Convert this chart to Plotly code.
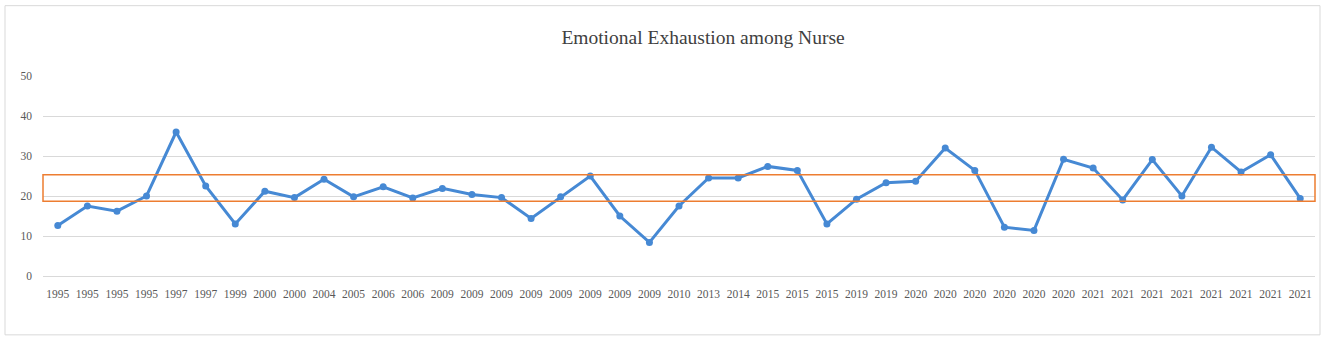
import plotly.graph_objects as go

years = ["1995", "1995", "1995", "1995", "1997", "1997", "1999", "2000", "2000", "2004",
         "2005", "2006", "2006", "2009", "2009", "2009", "2009", "2009", "2009", "2009",
         "2009", "2010", "2013", "2014", "2015", "2015", "2015", "2019", "2019", "2020",
         "2020", "2020", "2020", "2020", "2020", "2021", "2021", "2021", "2021", "2021",
         "2021", "2021", "2021"]
values = [12.6, 17.5, 16.2, 20.0, 36.0, 22.5, 13.0, 21.2, 19.6, 24.2,
          19.8, 22.3, 19.5, 21.9, 20.4, 19.6, 14.4, 19.8, 25.0, 15.0,
          8.4, 17.5, 24.5, 24.5, 27.4, 26.4, 13.0, 19.2, 23.3, 23.7,
          32.0, 26.4, 12.2, 11.4, 29.2, 27.0, 19.0, 29.1, 20.0, 32.2,
          26.0, 30.3, 19.4]
band = [18.7, 25.3]
y_ticks = [0, 10, 20, 30, 40, 50]

idx = list(range(len(years)))

fig = go.Figure()
fig.add_trace(go.Scatter(
    x=idx, y=values, mode="lines+markers",
    line=dict(color="#4689d4", width=3),
    marker=dict(color="#4689d4", size=7),
    hoverinfo="y",
))

fig.add_shape(type="rect", xref="paper", yref="y", x0=0, x1=1,
              y0=band[0], y1=band[1], line=dict(color="#ED7D31", width=1.5),
              fillcolor="rgba(0,0,0,0)", layer="above")

# outer chart border
L, R, T, B = 43, 10, 75.5, 64
W, H = 1325, 340
pw, ph = W - L - R, H - T - B
fig.add_shape(type="rect", xref="paper", yref="paper",
              x0=(5 - L) / pw, x1=(1320 - L) / pw,
              y0=(H - B - 335) / ph, y1=(H - B - 5) / ph,
              line=dict(color="#d9d9d9", width=1), fillcolor="rgba(0,0,0,0)")

serif = "Palatino Linotype, Book Antiqua, Liberation Serif, serif"
fig.update_layout(
    width=W, height=H,
    margin=dict(l=L, r=R, t=T, b=B),
    paper_bgcolor="white", plot_bgcolor="white",
    showlegend=False,
    title=dict(text="Emotional Exhaustion among Nurse",
               x=703 / W, xanchor="center", y=1 - 37 / H, yanchor="middle",
               font=dict(family=serif, size=19.5, color="#404040")),
    font=dict(family=serif, size=11.5, color="#595959"),
)
fig.update_xaxes(
    tickmode="array", tickvals=idx, ticktext=years,
    range=[-0.5, len(years) - 0.5], showgrid=False, zeroline=False,
    showline=False, ticks="", tickangle=0, ticklabelstandoff=9,
    tickfont=dict(family=serif, size=11.5, color="#595959"),
)
fig.update_yaxes(
    range=[0, 50], tickvals=y_ticks, showgrid=True, gridcolor="#d9d9d9",
    gridwidth=1, zeroline=True, zerolinecolor="#d9d9d9", zerolinewidth=1,
    showline=False, ticks="", ticklabelstandoff=10,
    tickfont=dict(family=serif, size=11.5, color="#595959"),
)

fig.write_html("out.html", config={"displayModeBar": False},
               post_script="document.body.style.margin='0';")
